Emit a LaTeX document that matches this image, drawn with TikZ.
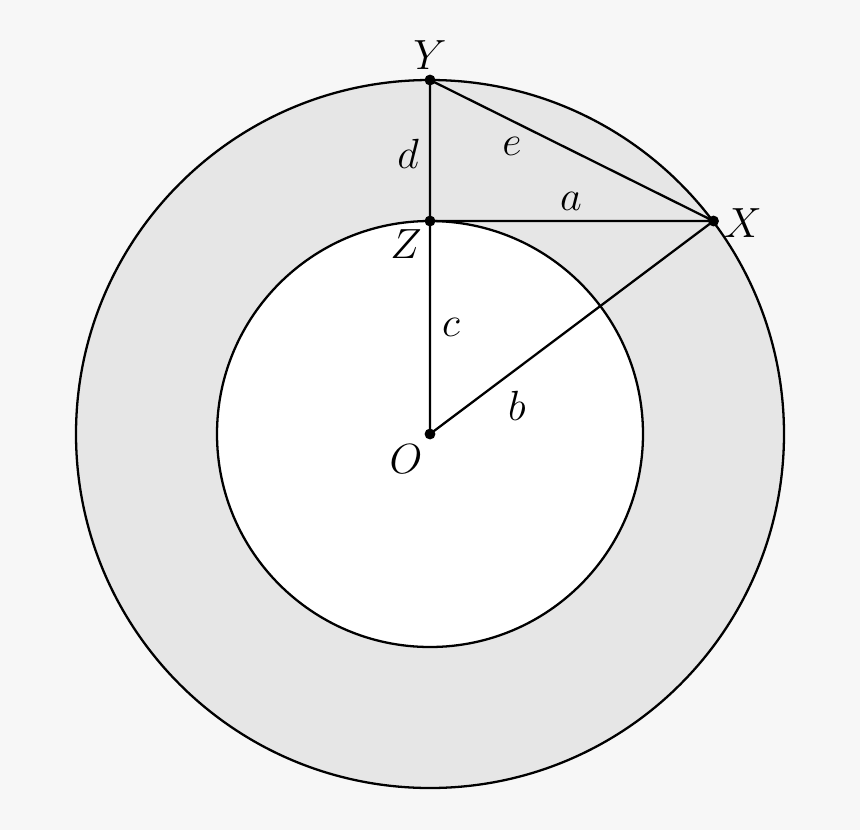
\documentclass[tikz,border=0pt]{standalone}
\begin{document}
\begin{tikzpicture}[x=0.01cm,y=-0.01cm,
  ln/.style={line width=0.65pt,black},
  pt/.style={circle,fill=black,inner sep=0pt,minimum size=3.1pt},
  lbl/.style={inner sep=0pt,font=\fontsize{12}{14}\selectfont}]
\definecolor{bgc}{HTML}{F7F7F7}
\definecolor{ann}{HTML}{E6E6E6}
\fill[bgc] (0,0) rectangle (860,830);
\useasboundingbox (0,0) rectangle (860,830);
\coordinate (Oc) at (430,434);
\fill[ann,even odd rule] (Oc) circle[radius=354] (Oc) circle[radius=213];
\fill[white] (Oc) circle[radius=213];
\draw[ln] (Oc) circle[radius=354];
\draw[ln] (Oc) circle[radius=213];
\node[pt] (O) at (430,434) {};
\node[pt] (Z) at (430,221) {};
\node[pt] (Y) at (430,80) {};
\node[pt] (X) at (713.5,221) {};
\draw[ln] (O.center) -- (Z.center) -- (Y.center) -- (X.center) -- (Z.center);
\draw[ln] (O.center) -- (X.center);
\node[lbl] (lY) at (430,55) {$Y$};
\node[lbl] (lX) at (743,223) {$X$};
\node[lbl] (lZ) at (406,244) {$Z$};
\node[lbl] (lO) at (406,459) {$O$};
\node[lbl] (ld) at (408,154) {$d$};
\node[lbl] (le) at (512,146) {$e$};
\node[lbl] (la) at (571,201) {$a$};
\node[lbl] (lc) at (451,327) {$c$};
\node[lbl] (lb) at (517,406) {$b$};
\end{tikzpicture}
\end{document}
